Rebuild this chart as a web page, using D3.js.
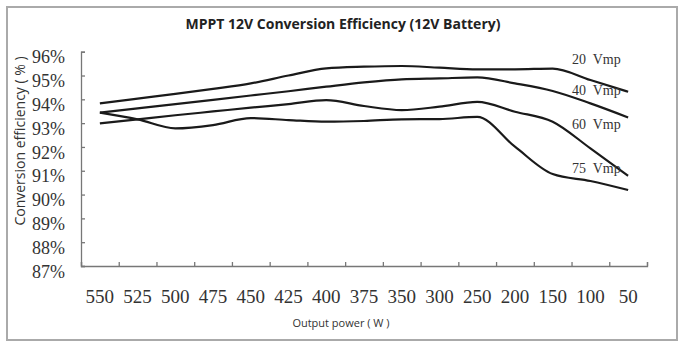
<html>
<head>
    <meta charset="UTF-8" />
    <script src="https://d3js.org/d3.v7.min.js"></script>
    <style>
        body { margin: 0; background: white; }
        .yaxis text, .xlabels text { font-family: 'Liberation Serif', serif; fill: #333; }
        .axis line, .axis path { stroke: #777; stroke-width: 1.3px; }
    </style>
</head>
<body>
    <svg id='chart' width='683' height='350'></svg>
    <script>
        // data
        const powers = ['550', '525', '500', '475', '450', '425', '400', '375', '350', '300', '250', '200', '150', '100', '50'];
        const vmp20 = [93.83, 94.03, 94.23, 94.44, 94.67, 95.0, 95.3, 95.37, 95.4, 95.33, 95.26, 95.26, 95.29, 94.81, 94.32];
        const vmp40 = [93.44, 93.62, 93.8, 93.98, 94.16, 94.34, 94.53, 94.71, 94.84, 94.88, 94.92, 94.67, 94.35, 93.83, 93.24];
        const vmp60 = [92.99, 93.16, 93.33, 93.49, 93.65, 93.8, 93.97, 93.72, 93.55, 93.69, 93.89, 93.48, 93.06, 91.94, 90.79];
        const vmp75 = [93.44, 93.16, 92.78, 92.92, 93.21, 93.13, 93.06, 93.09, 93.16, 93.17, 93.26, 92.01, 90.86, 90.57, 90.19];
        const seriesNames = ['20  Vmp', '40  Vmp', '60  Vmp', '75  Vmp'];
        const yTicks = [87, 88, 89, 90, 91, 92, 93, 94, 95, 96];

        const svg = d3.select('svg#chart');

        // outer frame
        svg.append('rect')
            .attr('x', 7).attr('y', 7)
            .attr('width', 670).attr('height', 333)
            .attr('fill', 'white')
            .attr('stroke', '#aaa')
            .attr('stroke-width', 2);

        const plotLeft = 81, plotRight = 647, plotTop = 51.7, plotBottom = 266;

        const xScale = d3.scaleBand().domain(powers).range([plotLeft, plotRight]);
        const xEdges = d3.scaleLinear().domain([0, powers.length]).range([plotLeft, plotRight]);
        const yScale = d3.scaleLinear().domain([87, 96]).range([plotBottom, plotTop]);

        // title
        svg.append('text')
            .attr('x', 343).attr('y', 29)
            .attr('text-anchor', 'middle')
            .style('font-family', "'Open Sans', sans-serif")
            .style('font-weight', 'bold')
            .style('font-size', '14px')
            .style('fill', '#222')
            .text('MPPT 12V Conversion Efficiency (12V Battery)');

        // y axis
        const yAxis = svg.append('g')
            .attr('class', 'axis yaxis')
            .attr('transform', `translate(${plotLeft},0)`)
            .call(d3.axisLeft(yScale).tickValues(yTicks).tickSize(-4).tickPadding(16).tickFormat(d => d + '%'));
        yAxis.selectAll('text').style('font-size', '18px').attr('dy', '0.62em');

        // x axis
        svg.append('g')
            .attr('class', 'axis')
            .attr('transform', `translate(0,${plotBottom})`)
            .call(d3.axisBottom(xEdges).ticks(powers.length).tickSize(-4).tickFormat(''));

        svg.append('g')
            .attr('class', 'xlabels')
            .selectAll('text')
            .data(powers)
            .join('text')
            .attr('x', d => xScale(d) + xScale.bandwidth() / 2)
            .attr('y', 303)
            .attr('text-anchor', 'middle')
            .style('font-size', '19px')
            .text(d => d);

        // axis titles
        svg.append('text')
            .attr('transform', 'translate(25,141) rotate(-90)')
            .attr('text-anchor', 'middle')
            .style('font-family', "'Open Sans', sans-serif")
            .style('font-size', '14px')
            .style('fill', '#333')
            .text('Conversion efficiency ( % )');

        svg.append('text')
            .attr('x', 341).attr('y', 327)
            .attr('text-anchor', 'middle')
            .style('font-family', "'Open Sans', sans-serif")
            .style('font-size', '11px')
            .style('fill', '#333')
            .text('Output power ( W )');

        // lines
        const line = d3.line()
            .x((d, i) => xScale(powers[i]) + xScale.bandwidth() / 2)
            .y(d => yScale(d))
            .curve(d3.curveMonotoneX);

        [vmp20, vmp40, vmp60, vmp75].forEach(s => {
            svg.append('path')
                .attr('d', line(s))
                .attr('fill', 'none')
                .attr('stroke', '#1a1a1a')
                .attr('stroke-width', 2.2);
        });

        // series labels
        const labelY = [95.69, 94.39, 92.96, 91.11];
        seriesNames.forEach((n, i) => {
            svg.append('text')
                .attr('x', 572)
                .attr('y', yScale(labelY[i]))
                .attr('dy', '0.35em')
                .style('font-family', "'Liberation Serif', serif")
                .style('font-size', '14px')
                .style('white-space', 'pre')
                .style('fill', '#333')
                .text(n);
        });
    </script>
</body>
</html>
